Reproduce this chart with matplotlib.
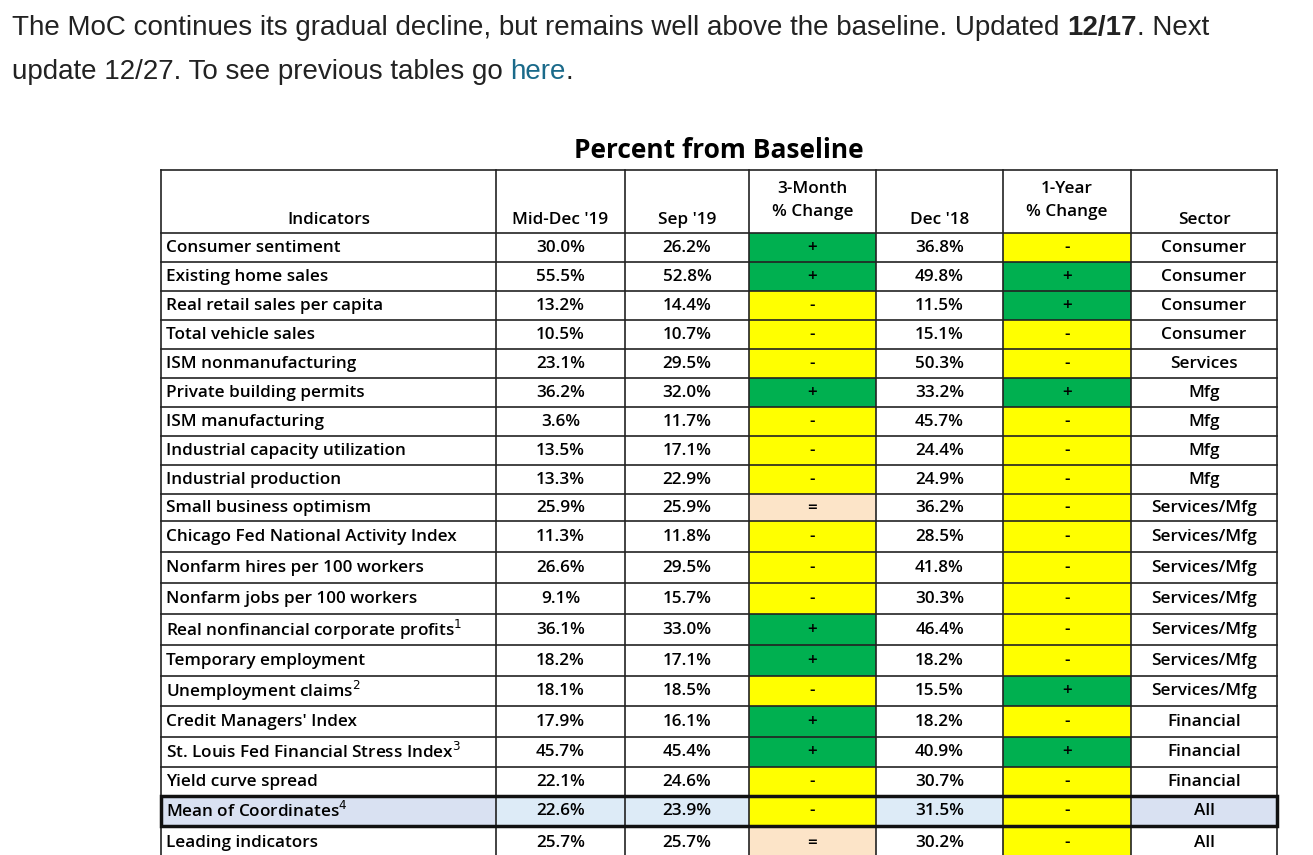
import matplotlib
matplotlib.use('Agg')
import matplotlib.pyplot as plt
from matplotlib.patches import Rectangle

# 表格数据
indicators = ['Consumer sentiment', 'Existing home sales', 'Real retail sales per capita',
              'Total vehicle sales', 'ISM nonmanufacturing', 'Private building permits',
              'ISM manufacturing', 'Industrial capacity utilization', 'Industrial production',
              'Small business optimism', 'Chicago Fed National Activity Index',
              'Nonfarm hires per 100 workers', 'Nonfarm jobs per 100 workers',
              'Real nonfinancial corporate profits$^1$', 'Temporary employment',
              'Unemployment claims$^2$', "Credit Managers' Index",
              'St. Louis Fed Financial Stress Index$^3$', 'Yield curve spread',
              'Mean of Coordinates$^4$', 'Leading indicators']
mid_dec19 = [30.0, 55.5, 13.2, 10.5, 23.1, 36.2, 3.6, 13.5, 13.3, 25.9, 11.3, 26.6, 9.1,
             36.1, 18.2, 18.1, 17.9, 45.7, 22.1, 22.6, 25.7]
sep19 = [26.2, 52.8, 14.4, 10.7, 29.5, 32.0, 11.7, 17.1, 22.9, 25.9, 11.8, 29.5, 15.7,
         33.0, 17.1, 18.5, 16.1, 45.4, 24.6, 23.9, 25.7]
chg_3m = ['+', '+', '-', '-', '-', '+', '-', '-', '-', '=', '-', '-', '-',
          '+', '+', '-', '+', '+', '-', '-', '=']
dec18 = [36.8, 49.8, 11.5, 15.1, 50.3, 33.2, 45.7, 24.4, 24.9, 36.2, 28.5, 41.8, 30.3,
         46.4, 18.2, 15.5, 18.2, 40.9, 30.7, 31.5, 30.2]
chg_1y = ['-', '+', '+', '-', '-', '+', '-', '-', '-', '-', '-', '-', '-',
          '-', '-', '+', '-', '+', '-', '-', '-']
sectors = ['Consumer'] * 4 + ['Services'] + ['Mfg'] * 4 + ['Services/Mfg'] * 7 + \
          ['Financial'] * 3 + ['All', 'All']
headers = ['Indicators', "Mid-Dec '19", "Sep '19", '3-Month\n% Change', "Dec '18",
           '1-Year\n% Change', 'Sector']

# 版式
col_x = [161, 496, 625, 749, 876, 1003, 1131, 1277]
row_y = [233, 262, 291, 320, 349, 378, 407, 436, 465, 494, 521, 552, 583, 614, 645,
         676, 706, 737, 767, 796, 826, 860]
sign_color = {'+': '#00B050', '-': '#FFFF00', '=': '#FCE4C8'}
FONT = 'Open Sans'
FS = 12.3

fig = plt.figure(figsize=(13.13, 8.55), dpi=100)
ax = fig.add_axes([0, 0, 1, 1])
ax.set_xlim(0, 1313)
ax.set_ylim(855, 0)
ax.axis('off')

# 顶部说明文字（逐段拼接）
fig.canvas.draw()
renderer = fig.canvas.get_renderer()
def run(x, y, s, bold=False, color='#222222'):
    t = ax.text(x, y, s, fontsize=20, family='Liberation Sans', color=color,
                fontweight='bold' if bold else 'normal', va='center', ha='left')
    bb = t.get_window_extent(renderer)
    return x + bb.width
x = run(12, 28, 'The MoC continues its gradual decline, but remains well above the baseline. Updated ')
x = run(x, 28, '12/17', bold=True)
run(x, 28, '. Next')
x = run(12, 72, 'update 12/27. To see previous tables go ')
x = run(x, 72, 'here', color='#1a6a8a')
run(x, 72, '.')

ax.text((col_x[0] + col_x[-1]) / 2, 150, 'Percent from Baseline', fontsize=19,
        fontweight='bold', family=FONT, ha='center', va='center')

# 表头
for j, h in enumerate(headers):
    cx = (col_x[j] + col_x[j + 1]) / 2
    ax.text(cx, 220, h, fontsize=FS, family=FONT, fontweight='semibold',
            ha='center', va='bottom' if '\n' in h else 'center', linespacing=1.6)
    ax.plot([col_x[j], col_x[j]], [170, 860], color='#222222', lw=1.2)
ax.plot([col_x[-1]] * 2, [170, 860], color='#222222', lw=1.2)
ax.plot([col_x[0], col_x[-1]], [170, 170], color='#222222', lw=1.2)

# 表体
for i in range(len(indicators)):
    y0, y1 = row_y[i], row_y[i + 1]
    cy = (y0 + y1) / 2
    mean_row = indicators[i].startswith('Mean')
    cells = [indicators[i], f'{mid_dec19[i]:.1f}%', f'{sep19[i]:.1f}%', chg_3m[i],
             f'{dec18[i]:.1f}%', chg_1y[i], sectors[i]]
    for j, c in enumerate(cells):
        fc = None
        if j in (3, 5):
            fc = sign_color[c]
        elif mean_row:
            fc = '#D9E1F2' if j in (0, 6) else '#DDEBF7'
        if fc:
            ax.add_patch(Rectangle((col_x[j], y0), col_x[j + 1] - col_x[j], y1 - y0,
                                   facecolor=fc, edgecolor='none', zorder=0))
        if j == 0:
            ax.text(col_x[0] + 5, cy, c, fontsize=FS, family=FONT,
                    fontweight='semibold', ha='left', va='center')
        else:
            ax.text((col_x[j] + col_x[j + 1]) / 2, cy, c, fontsize=FS, family=FONT,
                    fontweight='semibold', ha='center', va='center')
    ax.plot([col_x[0], col_x[-1]], [y0, y0], color='#222222', lw=1.2)
    if mean_row:
        ax.add_patch(Rectangle((col_x[0], y0), col_x[-1] - col_x[0], y1 - y0,
                               fill=False, edgecolor='#111111', lw=2.5, zorder=3))

fig.savefig('out.png', dpi=100)
